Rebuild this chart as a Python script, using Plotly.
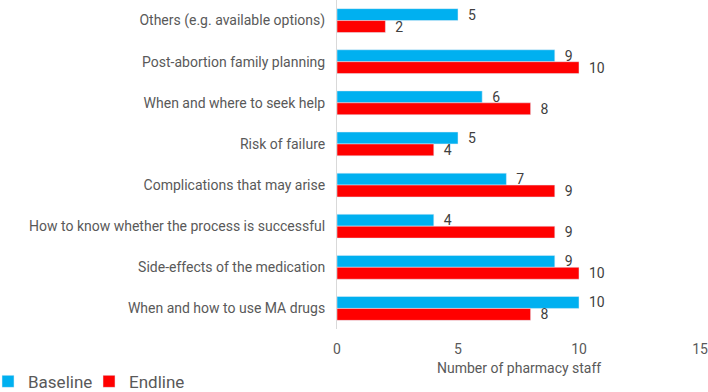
import plotly.graph_objects as go

categories = [
    "Others (e.g. available options)",
    "Post-abortion family planning",
    "When and where to seek help",
    "Risk of failure",
    "Complications that may arise",
    "How to know whether the process is successful",
    "Side-effects of the medication",
    "When and how to use MA drugs",
]
baseline = [5, 9, 6, 5, 7, 4, 9, 10]
endline = [2, 10, 8, 4, 9, 9, 10, 8]
x_ticks = [0, 5, 10, 15]
x_title = "Number of pharmacy staff"

FONT = "Roboto"
GRAY = "#595959"

fig = go.Figure()
for name, vals, color in [("Baseline", baseline, "#00B0F0"), ("Endline", endline, "#FF0000")]:
    fig.add_trace(go.Bar(
        y=categories, x=vals, name=name, orientation="h",
        marker=dict(color=color), text=vals, texttemplate="  %{x}",
        textposition="outside", constraintext="none",
        textfont=dict(color="#404040", size=14, family=FONT), cliponaxis=False,
    ))

fig.add_annotation(
    text=x_title, xref="paper", yref="paper", x=0.5, y=-0.1185,
    xanchor="center", yanchor="middle", showarrow=False,
    font=dict(size=14, color=GRAY, family=FONT),
)

fig.update_layout(
    width=708, height=392,
    margin=dict(l=337, r=8, t=0, b=63, autoexpand=False),
    barmode="group", bargap=0.42, bargroupgap=0,
    plot_bgcolor="white", paper_bgcolor="white",
    font=dict(family=FONT, color=GRAY, size=14),
    showlegend=True,
    legend=dict(
        orientation="h", xref="paper", yref="container",
        x=-0.9614, y=0.026, xanchor="left", yanchor="middle",
        font=dict(size=17, color=GRAY), traceorder="normal",
        entrywidth=56, entrywidthmode="pixels",
    ),
    xaxis=dict(
        range=[0, 15], tickvals=x_ticks, showgrid=False, zeroline=False,
        showline=False, tickfont=dict(size=14, color=GRAY), automargin=False,
        ticks="", ticklabelstandoff=10,
    ),
    yaxis=dict(
        autorange="reversed", showgrid=False, zeroline=False,
        showline=True, linecolor="#D9D9D9", linewidth=1, automargin=False,
        ticks="", ticklabelstandoff=8,
        tickfont=dict(size=14, color=GRAY),
    ),
)

fig.write_html("out.html", config={"displayModeBar": False},
               post_script="document.body.style.margin='0';")
